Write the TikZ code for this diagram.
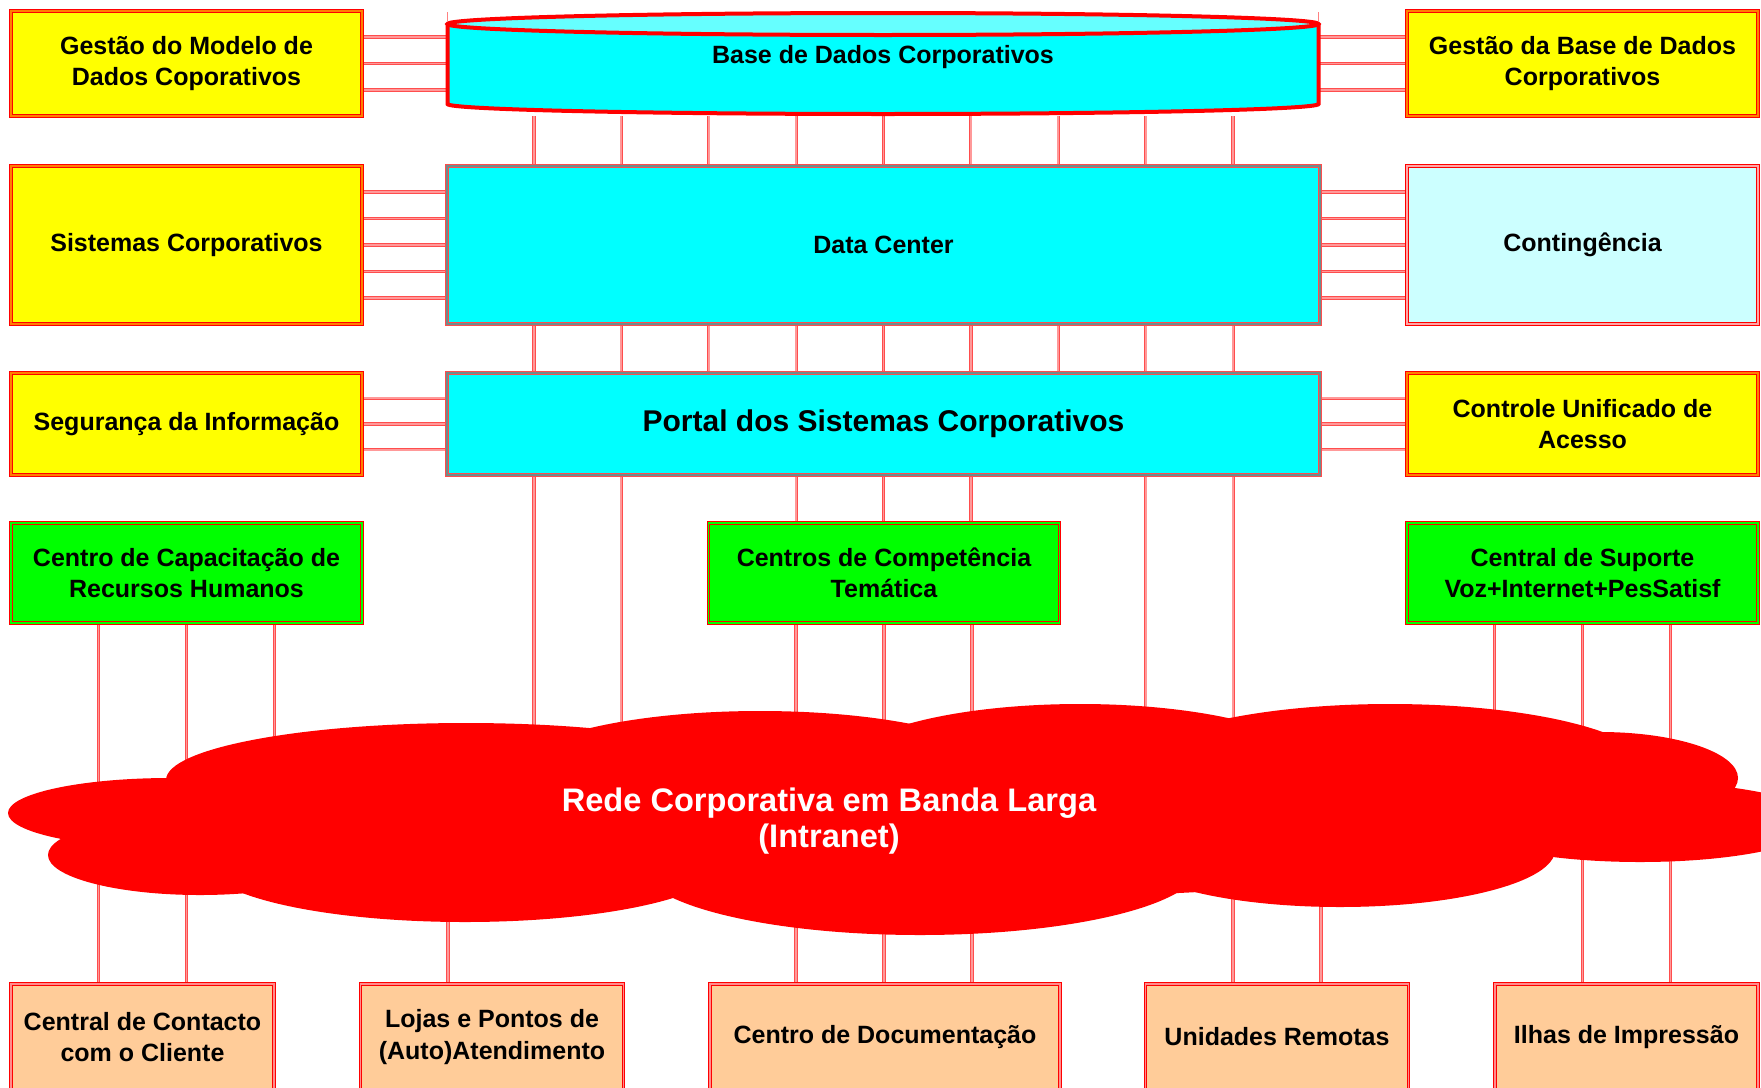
\documentclass[tikz,border=0pt]{standalone}
\usepackage{fontspec}
\setmainfont{Liberation Sans}
\usetikzlibrary{calc}
\usetikzlibrary{backgrounds}

\definecolor{boxyellow}{HTML}{FFFF00}
\definecolor{boxcyan}{HTML}{00FFFF}
\definecolor{topcyan}{HTML}{66FFFF}
\definecolor{boxpale}{HTML}{CCFFFF}
\definecolor{boxgreen}{HTML}{00FF00}
\definecolor{boxpeach}{HTML}{FFCC99}
\definecolor{edgegray}{HTML}{708C8C}
\definecolor{linkred}{HTML}{FF4D4D}
\definecolor{linkpink}{HTML}{FF9999}
\definecolor{cloudred}{HTML}{FF0000}

\tikzset{
	box/.style={line width=0.5pt, double distance=0.6pt, minimum width=175.5pt, align=center, inner sep=2pt, text=black, font=\bfseries\fontsize{12.5}{15.7}\selectfont},
	yellowbox/.style={box, fill=boxyellow, draw=red, double=orange},
	cyanbox/.style={box, fill=boxcyan, draw=red!70, double=edgegray, minimum width=436.5pt},
	palebox/.style={box, fill=boxpale, draw=red, double=red!35},
	greenbox/.style={box, fill=boxgreen, draw=red, double=boxgreen, minimum height=50pt},
	peachbox/.style={box, fill=boxpeach, draw=red, double=red!45, minimum width=131.5pt, minimum height=53pt},
	link/.style={draw=linkred, double=linkpink, line width=0.35pt, double distance=0.9pt},
	cloudtext/.style={text=white, align=center, font=\bfseries\fontsize{16.3}{18}\selectfont}
}

\newcommand{\hlinks}[3] % left node, right node, heights as fractions
{
	\foreach \f in {#3}
		\draw[link] ($(#1.north east)!\f!(#1.south east)$) coordinate (p) -- (p -| #2.west);
}
\newcommand{\vlinks}[3] % upper node, lower end, widths as fractions
{
	\foreach \f in {#3}
		\draw[link] ($(#1.south west)!\f!(#1.south east)$) coordinate (p) -- (p |- #2);
}
\newcommand{\uplinks}[3] % lower node, upper end, widths as fractions
{
	\foreach \f in {#3}
		\draw[link] ($(#1.north west)!\f!(#1.north east)$) coordinate (p) -- (p |- #2);
}

\begin{document}
\begin{tikzpicture}[x=0.5pt, y=-0.5pt]
	% page 1761 x 1087, y runs downwards
	\useasboundingbox (0,0) rectangle (1761,1087);

	% row 1
	\node[yellowbox, minimum height=52.5pt] (gmd) at (186.5,63.5) {Gestão do Modelo de\\Dados Coporativos};
	\node[minimum width=436.5pt, minimum height=52.5pt, inner sep=0pt] (bd) at (883.5,63.5) {};
	\node[yellowbox, minimum height=52.5pt] (gbd) at (1582.5,63.5) {Gestão da Base de Dados\\Corporativos};

	% database drum
	\fill[boxcyan] (447.5,24) -- (447.5,104) arc[start angle=180, end angle=0, x radius=435.5, y radius=10] -- (1318.5,24) -- cycle;
	\draw[red, line width=2pt] (447.5,24) -- (447.5,104) arc[start angle=180, end angle=0, x radius=435.5, y radius=10] -- (1318.5,24);
	\filldraw[fill=topcyan, draw=red, line width=2pt] (883,24) ellipse[x radius=435.5, y radius=11];
	\draw[red!50, line width=0.6pt] (447.5,12) -- (447.5,22);
	\draw[red!50, line width=0.6pt] (1318.5,12) -- (1318.5,22);
	\node[font=\bfseries\fontsize{12.5}{15.7}\selectfont] (bdtext) at (883,57) {Base de Dados Corporativos};

	% row 2
	\node[yellowbox, minimum height=79pt] (sis) at (186.5,245) {Sistemas Corporativos};
	\node[cyanbox, minimum height=79pt] (dc) at (883.5,245) {Data Center};
	\node[palebox, minimum height=79pt] (cont) at (1582.5,245) {Contingência};

	% row 3
	\node[yellowbox, minimum height=51pt] (seg) at (186.5,424) {Segurança da Informação};
	\node[cyanbox, minimum height=51pt, font=\bfseries\fontsize{15}{18}\selectfont] (portal) at (883.5,424) {Portal dos Sistemas Corporativos};
	\node[yellowbox, minimum height=51pt] (cua) at (1582.5,424) {Controle Unificado de\\Acesso};

	% row 4
	\node[greenbox] (cap) at (186.5,573) {Centro de Capacitação de\\Recursos Humanos};
	\node[greenbox] (comp) at (884,573) {Centros de Competência\\Temática};
	\node[greenbox] (sup) at (1582.5,573) {Central de Suporte\\Voz+Internet+PesSatisf};

	% network
	\node[cloudtext] (rede) at (829,821) {Rede Corporativa em Banda Larga\\(Intranet)};

	% row 5
	\node[peachbox] (contacto) at (142.5,1037) {Central de Contacto\\com o Cliente};
	\node[peachbox] (lojas) at (492,1037) {Lojas e Pontos de\\(Auto)Atendimento};
	\node[peachbox, minimum width=175pt] (doc) at (885,1037) {Centro de Documentação};
	\node[peachbox] (uni) at (1277,1037) {Unidades Remotas};
	\node[peachbox] (ilhas) at (1626.5,1037) {Ilhas de Impressão};

	\begin{scope}[on background layer]
		% side links
		\hlinks{gmd}{bd}{0.25,0.5,0.75}
		\hlinks{bd}{gbd}{0.25,0.5,0.75}
		\hlinks{sis}{dc}{0.1667,0.3333,0.5,0.6667,0.8333}
		\hlinks{dc}{cont}{0.1667,0.3333,0.5,0.6667,0.8333}
		\hlinks{seg}{portal}{0.25,0.5,0.75}
		\hlinks{portal}{cua}{0.25,0.5,0.75}

		% links down the middle
		\vlinks{bd}{dc.north}{0.1,0.2,0.3,0.4,0.5,0.6,0.7,0.8,0.9}
		\vlinks{dc}{portal.north}{0.1,0.2,0.3,0.4,0.5,0.6,0.7,0.8,0.9}
		\vlinks{portal}{rede}{0.1,0.2,0.8,0.9}
		\vlinks{portal}{comp.north}{0.4,0.5,0.6}

		% links through the network
		\vlinks{cap}{contacto.north}{0.25,0.5}
		\vlinks{cap}{rede}{0.75}
		\vlinks{comp}{doc.north}{0.25,0.5,0.75}
		\vlinks{sup}{rede}{0.25}
		\vlinks{sup}{ilhas.north}{0.5,0.75}
		\uplinks{lojas}{rede}{0.3333}
		\uplinks{uni}{rede}{0.3333,0.6667}

		% cloud
		\begin{scope}
			\clip (0,0) rectangle (1761,1087);
			\foreach \cx/\cy/\rx/\ry in {170/813/162/35, 466/780/300/57, 760/775/250/64, 1080/770/240/66, 1390/770/260/66, 1600/778/138/46, 1640/822/180/40, 1340/850/215/57, 920/865/280/70, 465/862/260/60, 200/855/152/40, 880/815/750/85}
				\fill[cloudred] (\cx,\cy) ellipse[x radius=\rx, y radius=\ry];
		\end{scope}
	\end{scope}
\end{tikzpicture}
\end{document}
